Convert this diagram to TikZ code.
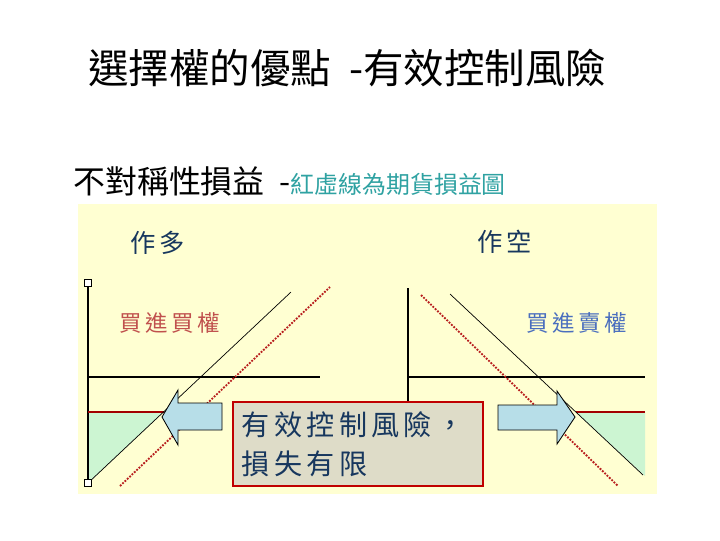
\documentclass[tikz,border=0pt]{standalone}
\usepackage{fontspec}
\newfontfamily\cjk{Noto Sans CJK TC}
\newfontfamily\cjkwide[LetterSpace=15]{Noto Sans CJK TC}
\usetikzlibrary{positioning}
\definecolor{panel}{HTML}{FFFFD2}
\definecolor{gain}{HTML}{CCF5D2}
\definecolor{shift}{HTML}{B7DEE8}
\definecolor{note}{HTML}{DEDCC8}
\definecolor{edge}{HTML}{C00000}
\definecolor{navy}{HTML}{17375E}
\definecolor{teal}{HTML}{2FA2A2}
\definecolor{callc}{HTML}{C0504D}
\definecolor{putc}{HTML}{4A6EBE}
\definecolor{fut}{HTML}{B81E1E}
\tikzset{
  head/.style={font=\cjk\fontsize{28.8}{32}\selectfont, anchor=west, inner sep=0pt},
  sub/.style={font=\cjk\fontsize{22.7}{26}\selectfont, anchor=base west, inner sep=0pt},
  side/.style={font=\cjkwide\fontsize{18}{20}\selectfont, text=navy, inner sep=0pt},
  kind/.style={font=\cjkwide\fontsize{16}{18}\selectfont, text=#1, inner sep=0pt},
  axis/.style={line width=0.8pt, draw=black},
  payoff/.style={line width=0.5pt, draw=black},
  futures/.style={line width=1.3pt, draw=fut, densely dotted},
  floor/.style={line width=1.2pt, draw=edge!85!black},
  shiftarr/.style={draw=black, line width=0.6pt, fill=shift},
  endmark/.style={draw=black, line width=0.5pt, fill=white, minimum size=5pt, inner sep=0pt},
  riskbox/.style={draw=edge, line width=1pt, fill=note, align=left, text=navy,
                  font=\cjkwide\fontsize{20}{28}\selectfont, text width=5.8cm,
                  minimum height=2.1cm, inner xsep=0.22cm},
}
\begin{document}
\begin{tikzpicture}[x=0.025cm, y=-0.025cm]
\useasboundingbox (0,0) rectangle (720,540);
\fill[white] (0,0) rectangle (720,540);

% titles
\node[head] (title) at (88,68) {選擇權的優點\ \ -有效控制風險};
\node[sub] (asym) at (73,193) {不對稱性損益\ \ -};
\node[sub, font=\cjk\fontsize{17}{20}\selectfont, text=teal, anchor=base west] (legend) at (asym.base east) {紅虛線為期貨損益圖};

% panel
\fill[panel] (78,204) rectangle (657,494);
\fill[gain] (88,412) -- (163.5,412) -- (88,483) -- cycle;
\fill[gain] (575.6,412) -- (645,412) -- (645,476) -- cycle;

% long side
\coordinate (lo) at (88,483);
\coordinate (lt) at (88,283);
\draw[axis] (lt) -- (lo);
\draw[axis] (88,377) -- (320,377);
\draw[floor] (88,412) -- (163.5,412);
\draw[payoff] (lo) -- (291,292);
\draw[futures] (120,486) -- (330,287);
\node[endmark] (mtop) at (lt) {};
\node[endmark] (mbot) at (lo) {};
\node[side] (long) at (158,243) {作多};
\node[kind=callc] (call) at (170,323) {買進買權};

% short side
\draw[axis] (408,288) -- (408,402);
\draw[axis] (408,377) -- (645,377);
\draw[floor] (575.6,412) -- (645,412);
\draw[payoff] (450,294) -- (643,475);
\draw[futures] (421,295) -- (618,486);
\node[side] (short) at (505,242) {作空};
\node[kind=putc] (put) at (577,323) {買進賣權};

% arrows
\draw[shiftarr] (162,417) -- (178,390) -- (178,403) -- (222,403) -- (222,430)
  -- (178,430) -- (178,445) -- cycle;
\draw[shiftarr] (575,417) -- (557,391) -- (557,405) -- (498,405) -- (498,430)
  -- (557,430) -- (557,444) -- cycle;

% note
\node[riskbox] (risk) at (358,444) {有效控制風險，\\損失有限};
\end{tikzpicture}
\end{document}
